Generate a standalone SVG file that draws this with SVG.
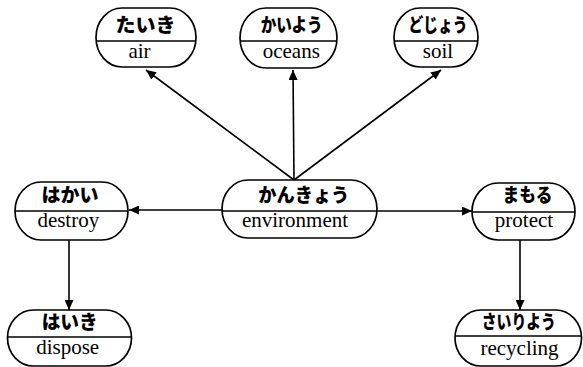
<svg xmlns="http://www.w3.org/2000/svg" width="583" height="367" viewBox="0 0 583 367">
  <defs>
    <marker id="arrow" markerUnits="userSpaceOnUse" markerWidth="10" markerHeight="9" refX="10" refY="4.5" orient="auto">
      <path d="M0,0 L10,4.5 L0,9 Z" fill="#000"/>
    </marker>
    <style>
      .box { fill: #fff; stroke: #000; stroke-width: 1.7; }
      .div { stroke: #000; stroke-width: 1.7; }
      .jp { font-family: "Noto Sans CJK JP", "Noto Sans", sans-serif; font-weight: 900; font-size: 19px; text-anchor: middle; fill: #000; }
      .en { font-family: "Liberation Serif", "Times New Roman", serif; font-size: 21px; text-anchor: middle; fill: #000; }
      .edge { stroke: #000; stroke-width: 1.6; fill: none; marker-end: url(#arrow); }
    </style>
  </defs>
  <rect width="583" height="367" fill="#fff"/>

  <g id="connectors">
    <line class="edge" x1="294" y1="180" x2="146" y2="70"/>
    <line class="edge" x1="294" y1="180" x2="293" y2="70"/>
    <line class="edge" x1="294" y1="180" x2="441" y2="70"/>
    <line class="edge" x1="222" y1="210" x2="129" y2="210"/>
    <line class="edge" x1="377" y1="211" x2="472" y2="211"/>
    <line class="edge" x1="69" y1="240" x2="69" y2="310"/>
    <line class="edge" x1="520" y1="240" x2="520" y2="310"/>
  </g>

  <g id="taiki">
    <rect class="box" x="96" y="8" width="100" height="59" rx="26" ry="29.5"/>
    <line class="div" x1="96.5" y1="41" x2="195.5" y2="41"/>
    <text class="jp" x="145.5" y="31.5" textLength="60" lengthAdjust="spacingAndGlyphs">たいき</text>
    <text class="en" x="139.5" y="58">air</text>
  </g>

  <g id="kaiyou">
    <rect class="box" x="240" y="8" width="97" height="60" rx="26" ry="30"/>
    <line class="div" x1="240.5" y1="41" x2="336.5" y2="41"/>
    <text class="jp" x="291.7" y="31.5" textLength="62" lengthAdjust="spacingAndGlyphs">かいよう</text>
    <text class="en" x="291.3" y="58">oceans</text>
  </g>

  <g id="dojou">
    <rect class="box" x="394" y="8" width="84" height="59" rx="26" ry="29.5"/>
    <line class="div" x1="394.5" y1="41" x2="477.5" y2="41"/>
    <text class="jp" x="438" y="31.5" textLength="59" lengthAdjust="spacingAndGlyphs">どじょう</text>
    <text class="en" x="438" y="58">soil</text>
  </g>

  <g id="hakai">
    <rect class="box" x="15" y="182" width="113" height="58" rx="26" ry="29"/>
    <line class="div" x1="15.5" y1="211" x2="127.5" y2="211"/>
    <text class="jp" x="70" y="201.5" textLength="57" lengthAdjust="spacingAndGlyphs">はかい</text>
    <text class="en" x="68.3" y="227">destroy</text>
  </g>

  <g id="kankyou">
    <rect class="box" x="222" y="180" width="155" height="58" rx="26" ry="29"/>
    <line class="div" x1="222.5" y1="211" x2="376.5" y2="211"/>
    <text class="jp" x="303.8" y="201.5" textLength="91" lengthAdjust="spacingAndGlyphs">かんきょう</text>
    <text class="en" x="295" y="227">environment</text>
  </g>

  <g id="mamoru">
    <rect class="box" x="472" y="183" width="103" height="57" rx="26" ry="28.5"/>
    <line class="div" x1="472.5" y1="212" x2="574.5" y2="212"/>
    <text class="jp" x="527.5" y="201.5" textLength="50" lengthAdjust="spacingAndGlyphs">まもる</text>
    <text class="en" x="524" y="227">protect</text>
  </g>

  <g id="haiki">
    <rect class="box" x="7.5" y="310" width="124" height="56" rx="26" ry="28"/>
    <line class="div" x1="8" y1="337" x2="131" y2="337"/>
    <text class="jp" x="69.7" y="328.5" textLength="56" lengthAdjust="spacingAndGlyphs">はいき</text>
    <text class="en" x="67.7" y="354">dispose</text>
  </g>

  <g id="sairiyou">
    <rect class="box" x="455" y="310" width="126.5" height="56" rx="26" ry="28"/>
    <line class="div" x1="455.5" y1="336" x2="581" y2="336"/>
    <text class="jp" x="518.8" y="328.5" textLength="74" lengthAdjust="spacingAndGlyphs">さいりよう</text>
    <text class="en" x="519.5" y="355">recycling</text>
  </g>
</svg>
